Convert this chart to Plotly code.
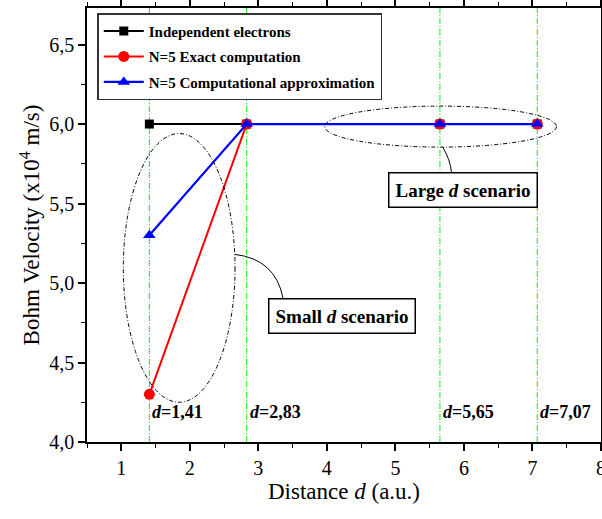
import plotly.graph_objects as go

d_values = [1.41, 2.83, 5.65, 7.07]
d_labels = ["1,41", "2,83", "5,65", "7,07"]
independent = [6.0, 6.0, 6.0, 6.0]
exact_n5 = [4.3, 6.0, 6.0, 6.0]
approx_n5 = [5.3, 6.0, 6.0, 6.0]

y_ticks = [4.0, 4.5, 5.0, 5.5, 6.0, 6.5]
y_ticktext = ["4,0", "4,5", "5,0", "5,5", "6,0", "6,5"]
x_ticks = [1, 2, 3, 4, 5, 6, 7, 8]

FONT = "Liberation Serif, Times New Roman, serif"

fig = go.Figure()
fig.add_trace(go.Scatter(x=d_values, y=independent, mode="lines+markers",
                         name="<b>Independent electrons</b>", legendgroup="a",
                         line=dict(color="black", width=2),
                         marker=dict(symbol="square", size=9, color="black")))
fig.add_trace(go.Scatter(x=d_values, y=exact_n5, mode="lines+markers",
                         name="<b>N=5 Exact computation</b>", legendgroup="b",
                         line=dict(color="red", width=2),
                         marker=dict(symbol="circle", size=11, color="red")))
fig.add_trace(go.Scatter(x=d_values, y=approx_n5, mode="lines+markers",
                         name="<b>N=5 Computational approximation</b>", legendgroup="c",
                         line=dict(color="blue", width=2.2),
                         marker=dict(symbol="triangle-up", size=11, color="blue")))

shapes = []
for d in d_values:
    shapes.append(dict(type="line", xref="x", yref="paper", x0=d, x1=d, y0=0, y1=1,
                       line=dict(color="#11ee11", width=1, dash="6px,2px,1px,2px"), layer="below"))
# ellipses
shapes.append(dict(type="circle", xref="x", yref="y", x0=1.03, x1=2.66, y0=4.25, y1=5.94,
                   line=dict(color="black", width=1, dash="4px,2px,1px,2px")))
shapes.append(dict(type="circle", xref="x", yref="y", x0=3.97, x1=7.35, y0=5.855, y1=6.113,
                   line=dict(color="black", width=1, dash="4px,2px,1px,2px")))
# connectors
shapes.append(dict(type="path", xref="x", yref="y",
                   path="M 2.66,5.18 Q 3.25,5.15 3.36,4.905",
                   line=dict(color="black", width=1)))
shapes.append(dict(type="path", xref="x", yref="y",
                   path="M 5.69,5.855 Q 5.8,5.78 5.82,5.69",
                   line=dict(color="black", width=1)))
fig.update_layout(shapes=shapes)

annotations = []
for d, lab in zip(d_values, d_labels):
    annotations.append(dict(x=d, y=4.19, xref="x", yref="y", xanchor="left",
                            text=f"<b><i>d</i>={lab}</b>", showarrow=False,
                            font=dict(family=FONT, size=18, color="black"), xshift=1))
annotations.append(dict(x=4.22, y=4.79, xref="x", yref="y",
                        text="<b>Small <i>d</i> scenario</b>", showarrow=False,
                        font=dict(family=FONT, size=19, color="black"),
                        bordercolor="black", borderwidth=1.5, borderpad=6, bgcolor="white"))
annotations.append(dict(x=5.99, y=5.585, xref="x", yref="y",
                        text="<b>Large <i>d</i> scenario</b>", showarrow=False,
                        font=dict(family=FONT, size=19, color="black"),
                        bordercolor="black", borderwidth=1.5, borderpad=6, bgcolor="white"))
fig.update_layout(annotations=annotations)

axis_common = dict(showline=True, linecolor="black", linewidth=1.5, mirror="allticks",
                   ticks="outside", ticklen=7, tickwidth=1.5, tickcolor="black",
                   showgrid=False, zeroline=False, automargin=False,
                   ticklabeloverflow="allow",
                   tickfont=dict(family=FONT, size=20, color="black"),
                   minor=dict(ticks="outside", ticklen=4, tickwidth=1, tickcolor="black"))

fig.update_xaxes(range=[0.5, 8], tickvals=x_ticks, ticktext=[str(v) for v in x_ticks],
                 minor_dtick=0.5,
                 title=dict(text="Distance <i>d</i> (a.u.)", font=dict(family=FONT, size=23, color="black"),
                            standoff=4),
                 **axis_common)
fig.update_yaxes(range=[4.0, 6.73], tickvals=y_ticks, ticktext=y_ticktext,
                 minor_dtick=0.25,
                 title=dict(text="Bohm Velocity (x10<sup>4</sup> m/s)",
                            font=dict(family=FONT, size=23, color="black"), standoff=3),
                 **axis_common)

fig.update_layout(
    width=602, height=519,
    margin=dict(l=87, r=1, t=8, b=77),
    plot_bgcolor="white", paper_bgcolor="white",
    showlegend=True,
    legend=dict(x=0.02, y=0.988, xanchor="left", yanchor="top",
                bordercolor="#333333", borderwidth=1.5, bgcolor="white",
                font=dict(family=FONT, size=15, color="black"),
                tracegroupgap=3, itemwidth=40),
)

fig.write_html("out.html")
